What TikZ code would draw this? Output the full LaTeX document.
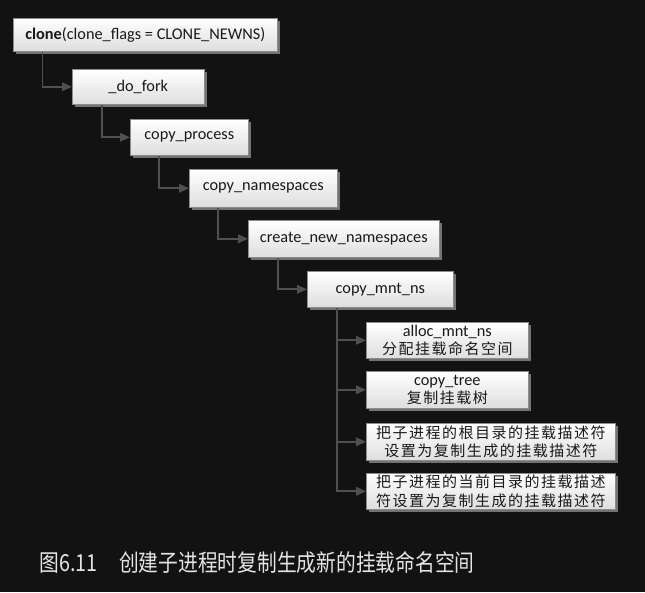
\documentclass[tikz,border=0pt]{standalone}
\usepackage{fontspec}
\usepackage{graphicx}
\setmainfont{Carlito}
\newfontfamily\cjk[LetterSpace=10]{Noto Sans CJK SC}
\newfontfamily\capfont{Noto Sans CJK SC}
\newcommand\zhtext[1]{{\cjk\fontsize{15}{18}\selectfont #1}}
\usetikzlibrary{shadows,arrows.meta}
\definecolor{bg}{HTML}{121212}
\definecolor{conncol}{HTML}{505050}
\definecolor{captext}{HTML}{E4E4E4}
\begin{document}
\begin{tikzpicture}[x=1pt,y=-1pt,
  box/.style={draw=black!45, line width=0.6pt, top color=white, bottom color=black!13,
    inner sep=0pt, anchor=north west, align=center, text=black!90,
    font=\fontsize{16.3}{18.5}\selectfont,
    drop shadow={shadow xshift=3pt, shadow yshift=-3pt, fill=black!55, opacity=1}},
  conn/.style={draw=conncol, line width=1.8pt, -{Triangle[length=10pt,width=8.5pt]}}]
\fill[bg] (0,0) rectangle (645,592);
\useasboundingbox (0,0) rectangle (645,592);

\node[box, minimum width=264pt, minimum height=33pt] (clone) at (13,18) {\textbf{clone}(clone\_flags = CLONE\_NEWNS)};
\node[box, minimum width=132pt, minimum height=35pt] (dofork) at (72,69) {\_do\_fork};
\node[box, minimum width=118pt, minimum height=36pt] (cproc) at (130,119) {copy\_process};
\node[box, minimum width=148pt, minimum height=38pt] (cns) at (189,169) {copy\_namespaces};
\node[box, minimum width=191pt, minimum height=37pt] (cnn) at (248,220) {create\_new\_namespaces};
\node[box, minimum width=146pt, minimum height=36pt] (cmnt) at (307,271) {copy\_mnt\_ns};
\node[box, minimum width=162pt, minimum height=36pt] (alloc) at (366,322) {alloc\_mnt\_ns\\\zhtext{分配挂载命名空间}};
\node[box, minimum width=162pt, minimum height=37pt] (ctree) at (366,371) {copy\_tree\\\zhtext{复制挂载树}};
\node[box, minimum width=249pt, minimum height=37pt] (root) at (366,423) {\zhtext{把子进程的根目录的挂载描述符}\\\zhtext{设置为复制生成的挂载描述符}};
\node[box, minimum width=249pt, minimum height=36pt] (cwd) at (366,473) {\zhtext{把子进程的当前目录的挂载描述}\\\zhtext{符设置为复制生成的挂载描述符}};

\draw[conn] ([xshift=29.5pt]clone.south west) |- (dofork.west);
\draw[conn] ([xshift=30pt]dofork.south west) |- (cproc.west);
\draw[conn] ([xshift=29pt]cproc.south west) |- (cns.west);
\draw[conn] ([xshift=29pt]cns.south west) |- (cnn.west);
\draw[conn] ([xshift=30pt]cnn.south west) |- (cmnt.west);
\draw[conn] ([xshift=30pt]cmnt.south west) |- (alloc.west);
\draw[conn] ([xshift=30pt]cmnt.south west) |- (ctree.west);
\draw[conn] ([xshift=30pt]cmnt.south west) |- (root.west);
\draw[conn] ([xshift=30pt]cmnt.south west) |- (cwd.west);

\node[text=captext, font=\capfont\fontsize{23.5}{23.5}\selectfont, inner sep=0pt] (cap) at (257,563)
  {\scalebox{0.84}[1]{图6.11\hspace{1.1em}创建子进程时复制生成新的挂载命名空间}};
\end{tikzpicture}
\end{document}
